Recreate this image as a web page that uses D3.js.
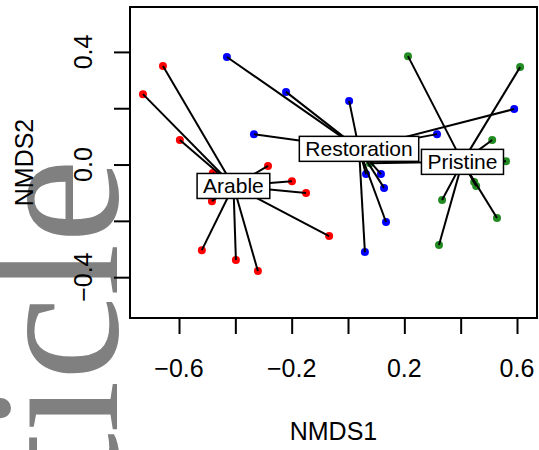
<!DOCTYPE html>
<html lang='en'>
  <head>
    <meta charset='utf-8'>
    <title>NMDS ordispider</title>
    <script type='text/javascript' src='https://cdn.jsdelivr.net/npm/d3@7'></script>
    <style>
      body { margin: 0; background: white; }
    </style>
  </head>
  <body>
    <script type='text/javascript'>

      // site scores (NMDS1, NMDS2)
      var arableX = [-0.657, -0.728, -0.597, -0.480, -0.284, -0.199, -0.149, -0.483, -0.067, -0.519, -0.398, -0.320];
      var arableY = [ 0.350,  0.250,  0.087, -0.030, -0.005, -0.059, -0.101, -0.130, -0.254, -0.304, -0.339, -0.378];

      var restorationX = [-0.430, -0.220, -0.334, 0.004, 0.590, 0.316, 0.064, 0.117, 0.128, 0.135, 0.060];
      var restorationY = [ 0.382,  0.258,  0.108, 0.226, 0.197, 0.108, -0.034, -0.034, -0.083, -0.204, -0.311];

      var pristineX = [0.213, 0.611, 0.512, 0.561, 0.448, 0.455, 0.334, 0.529, 0.323, 0.078];
      var pristineY = [0.385, 0.346, 0.087, 0.012, -0.062, -0.076, -0.126, -0.190, -0.286, 0.005];

      var groupNames = ['Arable', 'Restoration', 'Pristine'];
      var groupColors = ['#ff0000', '#0000ff', '#228b22'];

      var xTicks = [-0.6, -0.4, -0.2, 0.0, 0.2, 0.4, 0.6];
      var xTickLabels = [-0.6, -0.2, 0.2, 0.6];
      var yTicks = [-0.4, -0.2, 0.0, 0.2, 0.4];
      var yTickLabels = [-0.4, 0.0, 0.4];

      var w = 539;
      var h = 450;
      var plotLeft = 130, plotRight = 537, plotTop = 7, plotBottom = 318;
      var fontSans = 'Liberation Sans, Arial, sans-serif';

      var groups = [
        {name: groupNames[0], color: groupColors[0], xs: arableX, ys: arableY},
        {name: groupNames[1], color: groupColors[1], xs: restorationX, ys: restorationY},
        {name: groupNames[2], color: groupColors[2], xs: pristineX, ys: pristineY}
      ];

      var svg = d3.select('body')
                  .append('svg')
                  .attr('width', w)
                  .attr('height', h)
                  .style('display', 'block');

      svg.append('rect')
         .attr('width', w)
         .attr('height', h)
         .attr('fill', 'white');

      // grey watermark on the left edge
      svg.append('text')
         .attr('transform', 'translate(117,159) rotate(-90)')
         .attr('text-anchor', 'end')
         .attr('font-family', 'Liberation Serif, Times New Roman, serif')
         .attr('font-size', '190px')
         .attr('fill', '#808080')
         .text('Article');

      var xScale = d3.scaleLinear()
                     .domain([-0.774, 0.671])
                     .range([plotLeft, plotRight]);

      var yScale = d3.scaleLinear()
                     .domain([-0.545, 0.5595])
                     .range([plotBottom, plotTop]);

      var fmt = function(d){
        return d3.format('.1f')(d);
      };

      // axes (tick marks only, labels drawn separately)
      svg.append('g')
         .attr('transform', 'translate(0,' + plotBottom + ')')
         .call(d3.axisBottom(xScale).tickValues(xTicks).tickSize(16).tickFormat(''));
      svg.append('g')
         .attr('transform', 'translate(' + plotLeft + ',0)')
         .call(d3.axisLeft(yScale).tickValues(yTicks).tickSize(16).tickFormat(''));
      svg.selectAll('.domain').remove();
      svg.selectAll('.tick line')
         .attr('stroke', '#000')
         .attr('stroke-width', 2);

      svg.selectAll('.xlab')
         .data(xTickLabels)
         .enter()
         .append('text')
         .attr('class', 'xlab')
         .attr('x', function(d){ return xScale(d); })
         .attr('y', 377)
         .attr('text-anchor', 'middle')
         .attr('font-family', fontSans)
         .attr('font-size', '25px')
         .text(fmt);

      svg.selectAll('.ylab')
         .data(yTickLabels)
         .enter()
         .append('text')
         .attr('class', 'ylab')
         .attr('transform', function(d){
           return 'translate(92,' + yScale(d) + ') rotate(-90)';
         })
         .attr('text-anchor', 'middle')
         .attr('font-family', fontSans)
         .attr('font-size', '25px')
         .text(fmt);

      svg.append('text')
         .attr('x', (plotLeft + plotRight) / 2)
         .attr('y', 440)
         .attr('text-anchor', 'middle')
         .attr('font-family', fontSans)
         .attr('font-size', '25px')
         .text('NMDS1');

      svg.append('text')
         .attr('transform', 'translate(33,' + (plotTop + plotBottom) / 2 + ') rotate(-90)')
         .attr('text-anchor', 'middle')
         .attr('font-family', fontSans)
         .attr('font-size', '25px')
         .text('NMDS2');

      // points
      groups.forEach(function(g){
        svg.append('g')
           .selectAll('circle')
           .data(d3.range(g.xs.length))
           .enter()
           .append('circle')
           .attr('cx', function(i){ return xScale(g.xs[i]); })
           .attr('cy', function(i){ return yScale(g.ys[i]); })
           .attr('r', 4)
           .attr('fill', g.color);
      });

      // spider lines to each group centroid
      groups.forEach(function(g){
        var cx = d3.mean(g.xs), cy = d3.mean(g.ys);
        svg.append('g')
           .selectAll('line')
           .data(d3.range(g.xs.length))
           .enter()
           .append('line')
           .attr('x1', xScale(cx))
           .attr('y1', yScale(cy))
           .attr('x2', function(i){ return xScale(g.xs[i]); })
           .attr('y2', function(i){ return yScale(g.ys[i]); })
           .attr('stroke', '#000')
           .attr('stroke-width', 2);
      });

      // boxed labels at the centroids
      groups.forEach(function(g){
        var cx = xScale(d3.mean(g.xs)), cy = yScale(d3.mean(g.ys));
        var lab = svg.append('g');
        var box = lab.append('rect');
        var txt = lab.append('text')
                     .attr('x', cx)
                     .attr('y', cy + 7.5)
                     .attr('text-anchor', 'middle')
                     .attr('font-family', fontSans)
                     .attr('font-size', '21px')
                     .text(g.name);
        var tw = txt.node().getComputedTextLength();
        box.attr('x', cx - tw / 2 - 6)
           .attr('y', cy - 12.5)
           .attr('width', tw + 12)
           .attr('height', 25)
           .attr('fill', 'white')
           .attr('stroke', '#000')
           .attr('stroke-width', 1.5);
      });

      // plot frame
      svg.append('rect')
         .attr('x', plotLeft)
         .attr('y', plotTop)
         .attr('width', plotRight - plotLeft)
         .attr('height', plotBottom - plotTop)
         .attr('fill', 'none')
         .attr('stroke', '#000')
         .attr('stroke-width', 2);

    </script>
  </body>
</html>
